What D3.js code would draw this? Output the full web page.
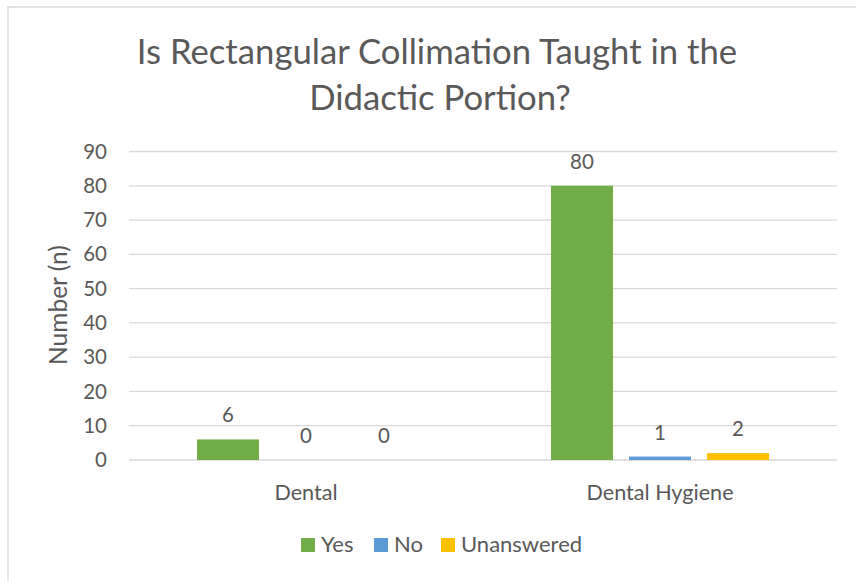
<!DOCTYPE html>
<html>
<head>
<meta charset="utf-8">
<script src="https://cdn.jsdelivr.net/npm/d3@7"></script>
<style>
  body { margin: 0; background: #fff; }
  text { font-family: Lato, "Open Sans", sans-serif; fill: #595959; }
</style>
</head>
<body>
<div id="svg-container"></div>
<script>
var categories = ["Dental", "Dental Hygiene"];
var seriesNames = ["Yes", "No", "Unanswered"];
var yesValues = [6, 80];
var noValues = [0, 1];
var unansweredValues = [0, 2];
var yTicks = [0, 10, 20, 30, 40, 50, 60, 70, 80, 90];
var colors = ["#70AD47", "#5B9BD5", "#FFC000"];

var allValues = [yesValues, noValues, unansweredValues];

var svg = d3.select("#svg-container").append("svg").attr("width", 856).attr("height", 581);

// chart frame
svg.append("rect").attr("x", 8).attr("y", 7).attr("width", 870).attr("height", 590)
  .attr("fill", "none").attr("stroke", "#d9d9d9").attr("stroke-width", 1.5);

var x0 = d3.scaleBand().domain(categories).range([129, 837]).padding(0);
var x1 = d3.scaleBand().domain(seriesNames).range([0, x0.bandwidth()])
  .paddingInner(0.205).paddingOuter(0.872);
var y = d3.scaleLinear().domain([0, 90]).range([460, 151.5]);

// gridlines
svg.append("g").selectAll("line").data(yTicks).join("line")
  .attr("x1", 129).attr("x2", 837)
  .attr("y1", function(d){ return y(d); }).attr("y2", function(d){ return y(d); })
  .attr("stroke", "#d9d9d9").attr("stroke-width", 1.3);

// y axis labels
var yAxis = d3.axisLeft(y).tickValues(yTicks).tickSize(0).tickPadding(22);
var gy = svg.append("g").attr("transform", "translate(129,0)").call(yAxis);
gy.select(".domain").remove();
gy.selectAll("text").style("font-size", "20.5px").attr("fill", "#595959")
  .style("font-family", "Lato, 'Open Sans', sans-serif");

// x axis labels
var xAxis = d3.axisBottom(x0).tickSize(0).tickPadding(25);
var gx = svg.append("g").attr("transform", "translate(0,460)").call(xAxis);
gx.select(".domain").remove();
gx.selectAll("text").style("font-size", "21.6px").attr("fill", "#595959")
  .style("font-family", "Lato, 'Open Sans', sans-serif");

// bars
seriesNames.forEach(function(s, si){
  var vals = allValues[si];
  var g = svg.append("g");
  g.selectAll("rect").data(vals).join("rect")
    .attr("x", function(d, i){ return x0(categories[i]) + x1(s); })
    .attr("y", function(d){ return y(d); })
    .attr("width", x1.bandwidth())
    .attr("height", function(d){ return y(0) - y(d); })
    .attr("fill", colors[si]);
  g.selectAll("text").data(vals).join("text")
    .attr("x", function(d, i){ return x0(categories[i]) + x1(s) + x1.bandwidth() / 2; })
    .attr("y", function(d){ return y(d) - 17; })
    .attr("text-anchor", "middle")
    .style("font-size", "20.5px")
    .text(function(d){ return d; });
});

// title
var title = svg.append("text").attr("text-anchor", "middle").style("font-size", "34.7px");
title.append("tspan").attr("x", 437).attr("y", 64).text("Is Rectangular Collimation Taught in the");
title.append("tspan").attr("x", 440).attr("y", 110).text("Didactic Portion?");

// y axis title
svg.append("text").attr("transform", "translate(67,305) rotate(-90)")
  .attr("text-anchor", "middle").style("font-size", "24.5px").text("Number (n)");

// legend
var legendX = [301, 374, 441];
var legend = svg.append("g");
seriesNames.forEach(function(s, i){
  legend.append("rect").attr("x", legendX[i]).attr("y", 538).attr("width", 14).attr("height", 14)
    .attr("fill", colors[i]);
  legend.append("text").attr("x", legendX[i] + 20).attr("y", 552)
    .style("font-size", "22px").text(s);
});
</script>
</body>
</html>
